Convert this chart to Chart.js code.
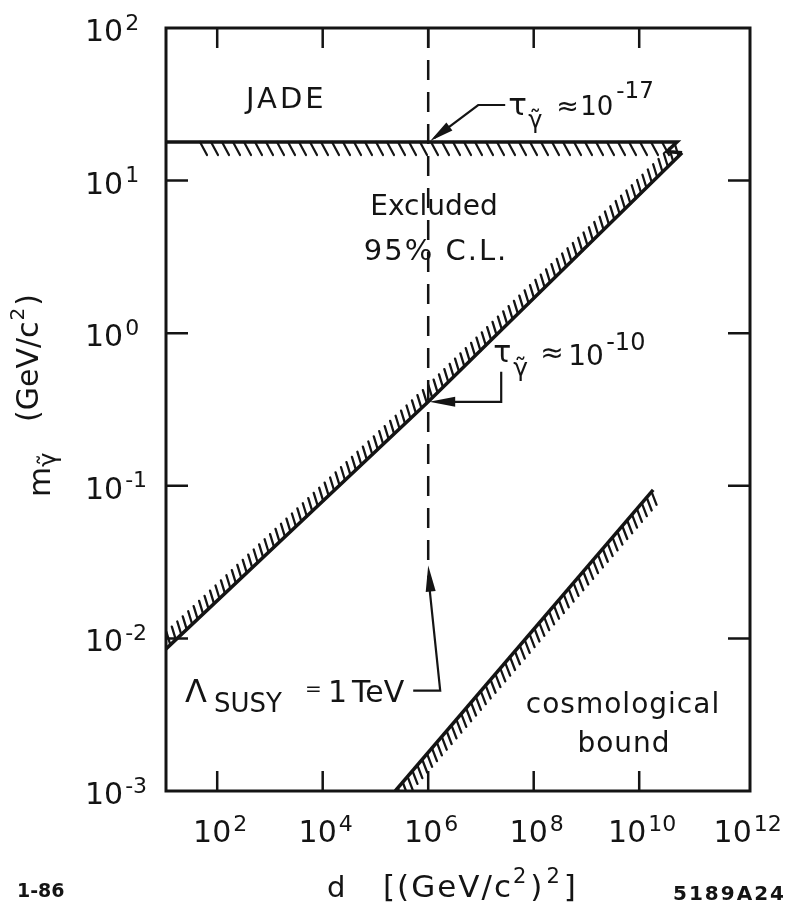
<!DOCTYPE html>
<html>
<head>
<meta charset="utf-8">
<script src="https://cdn.jsdelivr.net/npm/chart.js@4.4.0/dist/chart.umd.min.js"></script>
<style>
  html, body { margin: 0; padding: 0; background: #fff; }
  #wrap { width: 788px; height: 908px; }
</style>
</head>
<body>
<div id="wrap"><canvas id="c" width="788" height="908"></canvas></div>
<script>
// photino mass bounds: d in (GeV/c^2)^2, m in GeV/c^2
const jadeD = [10.7, 5.2e10, 3.35e10, 6.5e10];
const jadeM = [17.9, 17.9, 15.5, 15.2];
const tauD = [10.7, 1e6, 6.5e10];
const tauM = [0.00853, 0.355, 15.2];
const cosmoD = [2.37e5, 1.84e10];
const cosmoM = [0.001, 0.094];
const susyD = [1e6, 1e6];
const susyM = [100, 0.03];

const xTicks = [1e2, 1e4, 1e6, 1e8, 1e10, 1e12];
const xTickExp = ['2', '4', '6', '8', '10', '12'];
const yTicks = [1e2, 1e1, 1e0, 1e-1, 1e-2, 1e-3];
const yTickExp = ['2', '1', '0', '-1', '-2', '-3'];

const FONT = '"DejaVu Sans", sans-serif';
const INK = '#141414';

function pts(d, m) {
    return d.map((v, i) => ({ x: v, y: m[i] }));
}

function font(ctx, size, weight) {
    ctx.font = (weight || '') + ' ' + size + 'px ' + FONT;
}

// "10" with a raised exponent, baseline at y
function power(ctx, exp, x, y, size, align) {
    const es = Math.round(size * 0.72);
    font(ctx, size);
    const wb = ctx.measureText('10').width;
    font(ctx, es);
    const we = ctx.measureText(exp).width;
    const x0 = align === 'center' ? x - (wb + 2 + we) / 2 : x;
    font(ctx, size);
    ctx.fillText('10', x0, y);
    font(ctx, es);
    ctx.fillText(exp, x0 + wb + 2, y - size * 0.38);
}

// run of text pieces: [text, size, dx, dy]
function rich(ctx, x, y, parts) {
    let cx = x;
    parts.forEach(([t, size, dx = 0, dy = 0]) => {
        font(ctx, size);
        cx += dx;
        ctx.fillText(t, cx, y + dy);
        cx += ctx.measureText(t).width;
    });
    return cx;
}

// pieces placed at fixed offsets from an anchor: [text, size, dx, dy]
function placed(ctx, x, y, parts) {
    parts.forEach(([t, size, dx, dy]) => {
        font(ctx, size);
        ctx.fillText(t, x + dx, y + dy);
    });
}

function arrowHead(ctx, tx, ty, fx, fy, len, half) {
    const a = Math.atan2(ty - fy, tx - fx);
    const c = Math.cos(a), s = Math.sin(a);
    ctx.beginPath();
    ctx.moveTo(tx, ty);
    ctx.lineTo(tx - len * c + half * s, ty - len * s - half * c);
    ctx.lineTo(tx - len * c - half * s, ty - len * s + half * c);
    ctx.closePath();
    ctx.fill();
}

// short strokes along a boundary, on its excluded side
const hatchPlugin = {
    id: 'hatch',
    afterDatasetsDraw(chart) {
        const ctx = chart.ctx, a = chart.chartArea;
        ctx.save();
        ctx.beginPath();
        ctx.rect(a.left, a.top, a.right - a.left, a.bottom - a.top);
        ctx.clip();
        chart.data.datasets.forEach((ds, i) => {
            const h = ds.hatch;
            if (!h) return;
            const els = chart.getDatasetMeta(i).data;
            const segs = h.segments || els.slice(1).map((_, k) => k);
            ctx.strokeStyle = INK;
            ctx.lineWidth = h.width;
            ctx.lineCap = 'round';
            ctx.beginPath();
            let s0 = h.start;
            segs.forEach(k => {
                const p = els[k], q = els[k + 1];
                const len = Math.hypot(q.x - p.x, q.y - p.y);
                const stop = len - (k === segs[segs.length - 1] ? (h.end || 0) : 0);
                let s = s0;
                for (; s <= stop; s += h.step) {
                    const x = p.x + (q.x - p.x) * s / len;
                    const y = p.y + (q.y - p.y) * s / len;
                    ctx.moveTo(x, y);
                    ctx.lineTo(x + h.dx, y + h.dy);
                }
                s0 = s - len;
            });
            ctx.stroke();
        });
        ctx.restore();
    }
};

const framePlugin = {
    id: 'frame',
    afterDraw(chart) {
        const ctx = chart.ctx, a = chart.chartArea;
        const xs = chart.scales.x, ys = chart.scales.y;
        ctx.save();
        ctx.strokeStyle = INK;
        ctx.fillStyle = INK;
        ctx.lineCap = 'butt';

        ctx.lineWidth = 3;
        ctx.strokeRect(a.left, a.top, a.right - a.left, a.bottom - a.top);

        // decade ticks pointing into the plot on all four sides
        ctx.lineWidth = 2.5;
        ctx.beginPath();
        xTicks.forEach(v => {
            const x = xs.getPixelForValue(v);
            if (x > a.right - 12) return;
            ctx.moveTo(x, a.top); ctx.lineTo(x, a.top + 20);
            ctx.moveTo(x, a.bottom); ctx.lineTo(x, a.bottom - 20);
        });
        yTicks.forEach(v => {
            const y = ys.getPixelForValue(v);
            if (y < a.top + 12 || y > a.bottom - 12) return;
            ctx.moveTo(a.left, y); ctx.lineTo(a.left + 22, y);
            ctx.moveTo(a.right, y); ctx.lineTo(a.right - 22, y);
        });
        ctx.stroke();

        ctx.textAlign = 'left';
        ctx.textBaseline = 'alphabetic';
        xTicks.forEach((v, i) => {
            power(ctx, xTickExp[i], xs.getPixelForValue(v) + 3, a.bottom + 51, 30, 'center');
        });
        yTicks.forEach((v, i) => {
            power(ctx, yTickExp[i], a.left - 81, ys.getPixelForValue(v) + 13, 30, 'left');
        });

        // axis titles
        rich(ctx, a.left + 161, 897, [['d', 29]]);
        ctx.letterSpacing = '2px';
        const tx = rich(ctx, a.left + 217, 897, [['[(GeV/c', 31]]);
        rich(ctx, tx, 897, [['2', 21, 0, -14], [')', 31, 2], ['2', 21, 2, -14], [']', 31, 2]]);
        ctx.letterSpacing = '0px';

        ctx.save();
        ctx.translate(50, 497);
        ctx.rotate(-Math.PI / 2);
        rich(ctx, 0, 0, [['m', 31], ['γ̃', 24, 0, 6]]);
        ctx.restore();
        ctx.save();
        ctx.translate(38, 422);
        ctx.rotate(-Math.PI / 2);
        const gx = rich(ctx, 0, 0, [['(GeV/c', 30]]);
        rich(ctx, gx, 0, [['2', 20, 1, -14], [')', 30, 2]]);
        ctx.restore();

        font(ctx, 19, 'bold');
        ctx.fillText('1-86', 17, 897);
        ctx.letterSpacing = '2px';
        font(ctx, 20, 'bold');
        ctx.fillText('5189A24', 673, 900);
        ctx.letterSpacing = '0px';

        // region labels
        ctx.letterSpacing = '3px';
        font(ctx, 29);
        ctx.fillText('JADE', 246, 108);
        ctx.letterSpacing = '0px';
        ctx.textAlign = 'center';
        font(ctx, 28);
        ctx.fillText('Excluded', 434, 215);
        ctx.letterSpacing = '2px';
        font(ctx, 29);
        ctx.fillText('95% C.L.', 436, 260);
        ctx.letterSpacing = '1px';
        font(ctx, 28);
        ctx.fillText('cosmological', 623, 713);
        ctx.fillText('bound', 624, 752);
        ctx.letterSpacing = '0px';
        ctx.textAlign = 'left';

        ctx.lineWidth = 2.2;
        ctx.lineCap = 'butt';

        // lifetime 1e-17 s pointer onto the JADE limit
        const t1x = xs.getPixelForValue(1e6), t1y = ys.getPixelForValue(jadeM[0]);
        ctx.beginPath();
        ctx.moveTo(t1x + 6, t1y - 4);
        ctx.lineTo(t1x + 50, t1y - 37);
        ctx.lineTo(t1x + 77, t1y - 37);
        ctx.stroke();
        arrowHead(ctx, t1x + 2, t1y - 1, t1x + 50, t1y - 37, 24, 5);
        placed(ctx, t1x, t1y, [
            ['τ', 31, 80, -27], ['γ̃', 24, 100, -14], ['≈', 27, 128, -27],
            ['10', 26, 152, -27], ['-17', 23, 188, -44]
        ]);

        // lifetime 1e-10 s pointer onto the diagonal bound
        const t2x = xs.getPixelForValue(1e6), t2y = ys.getPixelForValue(tauM[1]);
        ctx.beginPath();
        ctx.moveTo(t2x + 10, t2y);
        ctx.lineTo(t2x + 73, t2y);
        ctx.lineTo(t2x + 73, t2y - 30);
        ctx.stroke();
        arrowHead(ctx, t2x + 1, t2y, t2x + 73, t2y, 26, 5);
        placed(ctx, t2x, t2y, [
            ['τ', 30, 65, -40], ['γ̃', 25, 85, -26], ['≈', 28, 112, -40],
            ['10', 28, 140, -37], ['-10', 24, 178, -52]
        ]);

        // SUSY scale pointer up to the dashed line
        const sx = xs.getPixelForValue(susyD[1]), sy = ys.getPixelForValue(susyM[1]);
        ctx.beginPath();
        ctx.moveTo(sx, sy + 10);
        ctx.lineTo(sx + 12, sy + 125);
        ctx.lineTo(sx - 15, sy + 125);
        ctx.stroke();
        arrowHead(ctx, sx, sy, sx + 12, sy + 125, 26, 5);
        placed(ctx, 0, 702, [
            ['Λ', 32, 185, 0], ['SUSY', 26, 214, 10], ['=', 20, 305, -7],
            ['1', 30, 328, 0], ['TeV', 30, 352, 0]
        ]);

        ctx.restore();
    }
};

const lineStyle = {
    borderColor: INK,
    borderWidth: 3.5,
    pointRadius: 0,
    tension: 0,
    fill: false
};

new Chart(document.getElementById('c'), {
    type: 'line',
    data: {
        datasets: [
            {
                label: 'JADE',
                data: pts(jadeD, jadeM),
                ...lineStyle,
                hatch: { segments: [0], start: 34, end: 6, step: 11, dx: 7, dy: 13, width: 2.2 }
            },
            {
                label: 'tau 1e-10',
                data: pts(tauD, tauM),
                ...lineStyle,
                hatch: { start: 6, end: 4, step: 7.5, dx: -4, dy: -13, width: 2.3 }
            },
            {
                label: 'cosmological bound',
                data: pts(cosmoD, cosmoM),
                ...lineStyle,
                hatch: { start: 4, end: 0, step: 7.5, dx: 5, dy: 13, width: 2.3 }
            },
            {
                label: 'SUSY 1 TeV',
                data: pts(susyD, susyM),
                borderColor: INK,
                borderWidth: 2.5,
                borderDash: [20, 12],
                pointRadius: 0,
                fill: false
            }
        ]
    },
    options: {
        responsive: false,
        animation: false,
        devicePixelRatio: 1,
        layout: { padding: { left: 166, right: 38, top: 28, bottom: 117 } },
        plugins: { legend: { display: false }, tooltip: { enabled: false } },
        scales: {
            x: { type: 'logarithmic', min: 10.7, max: 1.26e12, display: false },
            y: { type: 'logarithmic', min: 1e-3, max: 1e2, display: false }
        }
    },
    plugins: [hatchPlugin, framePlugin]
});
</script>
</body>
</html>
